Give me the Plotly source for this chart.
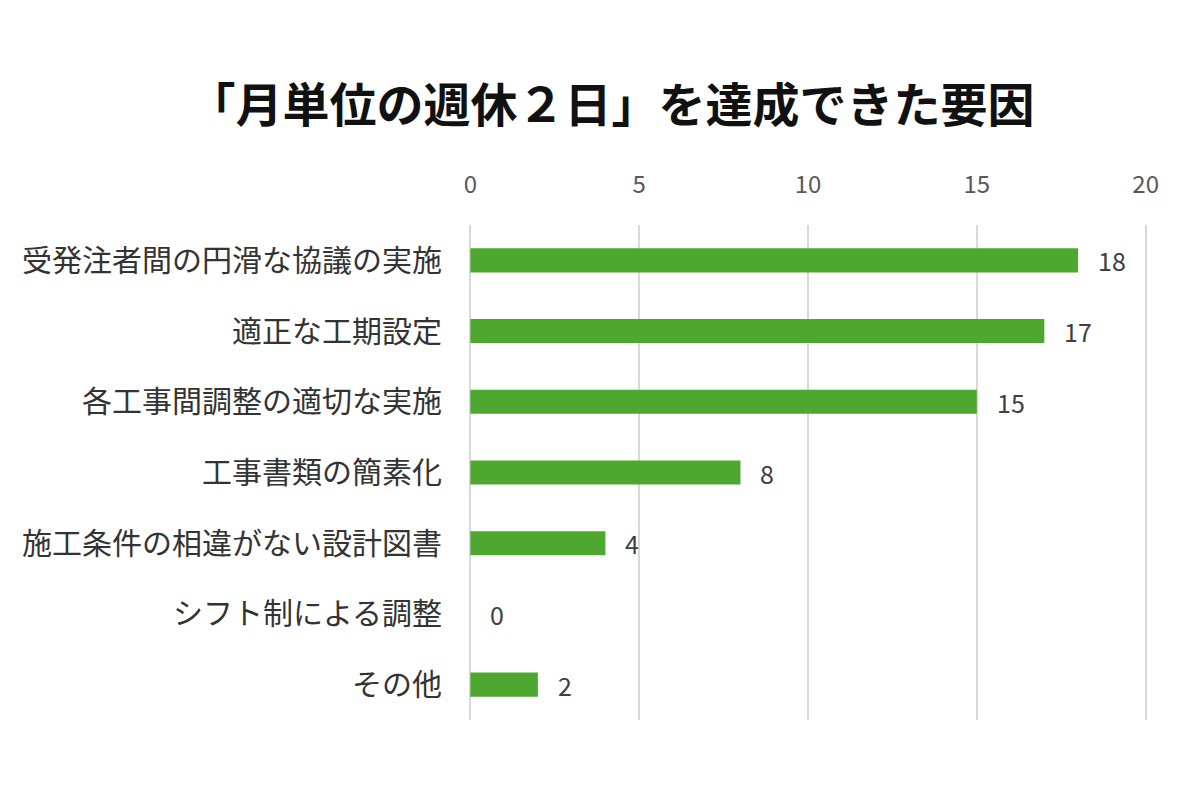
import plotly.graph_objects as go

# === Data ===
categories = [
    "受発注者間の円滑な協議の実施",
    "適正な工期設定",
    "各工事間調整の適切な実施",
    "工事書類の簡素化",
    "施工条件の相違がない設計図書",
    "シフト制による調整",
    "その他",
]
counts = [18, 17, 15, 8, 4, 0, 2]
tick_vals = [0, 5, 10, 15, 20]

font_jp = "Noto Sans CJK JP"

fig = go.Figure()
fig.add_trace(go.Bar(
    x=counts,
    y=categories,
    orientation="h",
    marker=dict(color="#4ea72e", line=dict(width=0)),
    width=0.34,
    hoverinfo="x+y",
))

# value labels just right of each bar end
for cat, val in zip(categories, counts):
    fig.add_annotation(
        x=val, y=cat,
        text=str(val),
        showarrow=False,
        xanchor="left",
        yanchor="middle",
        xshift=18,
        font=dict(size=25, color="#404040", family=font_jp),
    )

fig.update_layout(
    width=1200,
    height=798,
    paper_bgcolor="white",
    plot_bgcolor="white",
    font=dict(family=font_jp),
    title=dict(
        text="<b>「月単位の週休２日」を達成できた要因</b>",
        x=0.503,
        xanchor="center",
        y=0.878,
        yanchor="middle",
        font=dict(size=47, color="#111111", family=font_jp),
    ),
    margin=dict(l=461, r=61, t=217, b=86),
    showlegend=False,
    xaxis=dict(
        side="top",
        range=[-0.04, 20.04],
        tickvals=tick_vals,
        showgrid=True,
        gridcolor="#d9d9d9",
        gridwidth=1.5,
        zeroline=True,
        zerolinecolor="#d9d9d9",
        zerolinewidth=1.5,
        showline=False,
        ticks="",
        ticklabelstandoff=26,
        tickfont=dict(size=24, color="#595959", family=font_jp),
    ),
    yaxis=dict(
        autorange="reversed",
        showgrid=False,
        showline=False,
        ticks="",
        ticklabelstandoff=26,
        tickfont=dict(size=30, color="#333333", family=font_jp),
    ),
)

fig.write_html("out.html")
